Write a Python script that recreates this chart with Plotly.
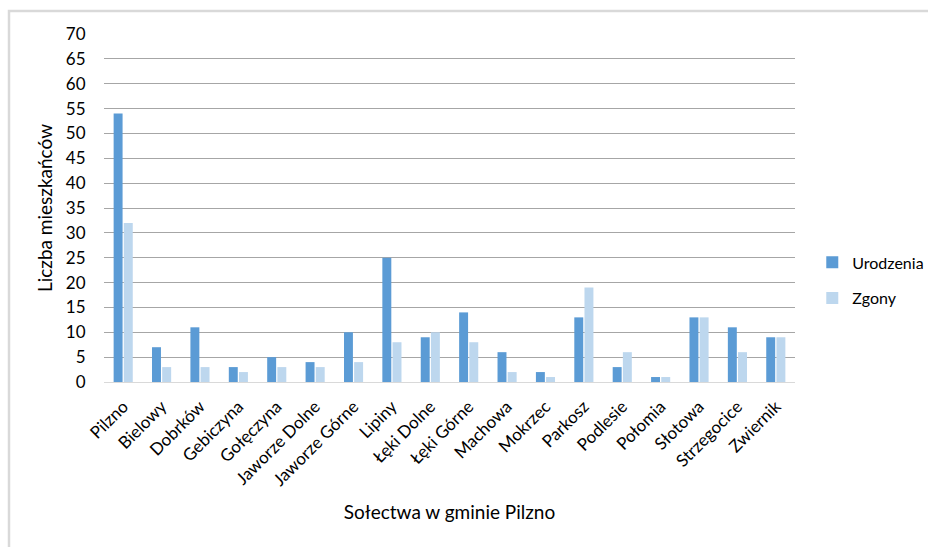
import plotly.graph_objects as go

# Villages of the Pilzno commune
solectwa = ["Pilzno", "Bielowy", "Dobrków", "Gebiczyna", "Gołęczyna", "Jaworze Dolne",
            "Jaworze Górne", "Lipiny", "Łęki Dolne", "Łęki Górne", "Machowa", "Mokrzec",
            "Parkosz", "Podlesie", "Połomia", "Słotowa", "Strzegocice", "Zwiernik"]
urodzenia = [54, 7, 11, 3, 5, 4, 10, 25, 9, 14, 6, 2, 13, 3, 1, 13, 11, 9]
zgony = [32, 3, 3, 2, 3, 3, 4, 8, 10, 8, 2, 1, 19, 6, 1, 13, 6, 9]
y_ticks = list(range(0, 75, 5))

font_family = "Lato, 'Open Sans', sans-serif"

fig = go.Figure()
fig.add_trace(go.Bar(x=solectwa, y=urodzenia, name="Urodzenia", legendgroup="u",
                     marker=dict(color="#5b9bd5", line=dict(width=0))))
fig.add_trace(go.Bar(x=solectwa, y=zgony, name="Zgony", legendgroup="z",
                     marker=dict(color="#bdd7ee", line=dict(width=0))))

fig.update_layout(
    width=928, height=547,
    margin=dict(l=104, r=133, t=34, b=165, autoexpand=False),
    paper_bgcolor="white", plot_bgcolor="white",
    barmode="group", bargap=0.47, bargroupgap=0.12,
    font=dict(family=font_family, color="#000000"),
    legend=dict(x=1.025, y=0.292, xanchor="left", yanchor="middle",
                font=dict(size=16, color="#000000"), tracegroupgap=12,
                itemwidth=30),
    showlegend=True,
)

fig.update_xaxes(
    type="category", tickangle=-45, tickfont=dict(size=17),
    showgrid=False, showline=True, linecolor="#d9d9d9", linewidth=1,
    ticks="outside", ticklen=7, tickcolor="rgba(0,0,0,0)",
    title=dict(text="Sołectwa w gminie Pilzno", font=dict(size=19), standoff=16),
)
fig.update_yaxes(
    range=[0, 70], tickvals=y_ticks, tickfont=dict(size=17),
    showgrid=True, gridcolor="#a6a6a6", gridwidth=1, zeroline=False,
    showline=False, ticks="outside", ticklen=14, tickcolor="rgba(0,0,0,0)",
    title=dict(text="Liczba mieszkańców", font=dict(size=19), standoff=8),
)

# Chart-area frame
fig.add_shape(type="rect", xref="paper", yref="paper",
              x0=(9 - 104) / 691, x1=1.4, y0=-0.6, y1=(382 - 11) / 348,
              line=dict(color="#d9d9d9", width=2.5), fillcolor="rgba(0,0,0,0)",
              layer="below")

fig.write_html("out.html")
